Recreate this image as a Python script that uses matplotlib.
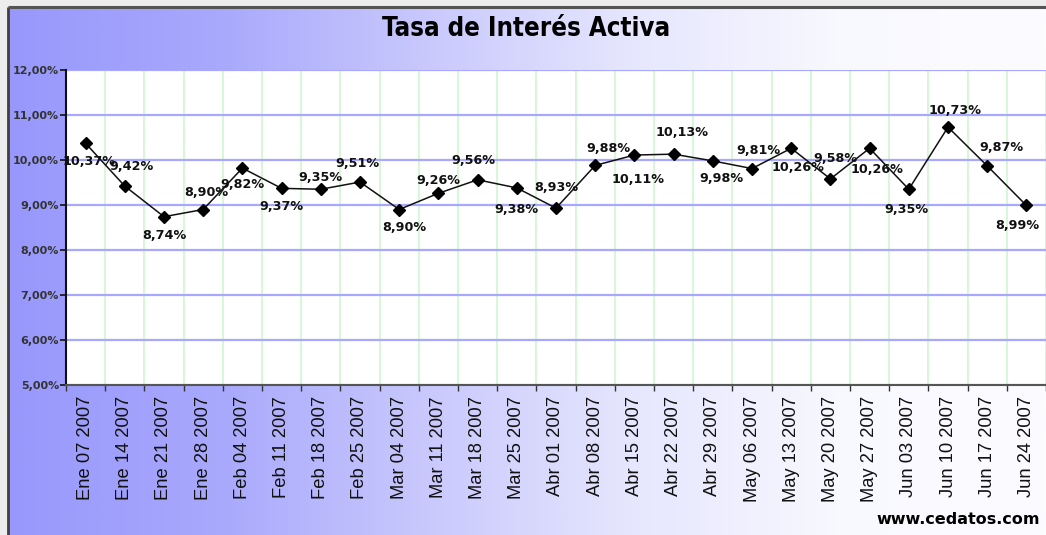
import numpy as np
import matplotlib
matplotlib.use("Agg")
import matplotlib.pyplot as plt
from matplotlib.colors import LinearSegmentedColormap

# ---- data ----
categories = ["Ene 07 2007", "Ene 14 2007", "Ene 21 2007", "Ene 28 2007",
              "Feb 04 2007", "Feb 11 2007", "Feb 18 2007", "Feb 25 2007",
              "Mar 04 2007", "Mar 11 2007", "Mar 18 2007", "Mar 25 2007",
              "Abr 01 2007", "Abr 08 2007", "Abr 15 2007", "Abr 22 2007",
              "Abr 29 2007", "May 06 2007", "May 13 2007", "May 20 2007",
              "May 27 2007", "Jun 03 2007", "Jun 10 2007", "Jun 17 2007",
              "Jun 24 2007"]
rates = [10.37, 9.42, 8.74, 8.90, 9.82, 9.37, 9.35, 9.51, 8.90, 9.26,
         9.56, 9.38, 8.93, 9.88, 10.11, 10.13, 9.98, 9.81, 10.26, 9.58,
         10.26, 9.35, 10.73, 9.87, 8.99]
y_ticks = [5, 6, 7, 8, 9, 10, 11, 12]
title = "Tasa de Interés Activa"
source = "www.cedatos.com"

# label offsets in pixels (dx, dy downward) - layout only
label_offsets = [(3, 18), (7, -20), (0, 19), (3, -17), (0, 16), (0, 18),
                 (0, -12), (-3, -19), (5, 18), (0, -13), (-4, -19), (0, 22),
                 (0, -21), (13, -17), (4, 24), (8, -22), (9, 18), (6, -18),
                 (7, 19), (5, -20), (7, 21), (-2, 20), (7, -17), (14, -18),
                 (-9, 20)]

W, H = 1046, 535
fig = plt.figure(figsize=(W / 100, H / 100), dpi=100)
fig.patch.set_facecolor("#ededed")

# background with gradient
bg = fig.add_axes([0, 0, 1, 1], zorder=0)
bg.set_xlim(0, W)
bg.set_ylim(H, 0)
bg.axis("off")
cmap = LinearSegmentedColormap.from_list(
    "g", ["#9898fc", "#a8a8fc", "#c8c8fd", "#e6e6fe", "#f8f8ff", "#fcfcff"])
grad = np.linspace(0, 1, 512).reshape(1, -1)
bg.imshow(grad, cmap=cmap, extent=[8, W, H, 7], aspect="auto")
bg.plot([8, 8], [7, H], color="#404040", lw=2, solid_capstyle="butt")
bg.plot([8, W], [7, 7], color="#555555", lw=2.2, solid_capstyle="butt")

bg.text(526, 29, title, ha="center", va="center", fontsize=18.5,
        fontweight="bold", fontstretch="condensed",
        family=["DejaVu Sans"], color="#000000")
bg.text(1040, 520, source, ha="right", va="center", fontsize=11.5,
        fontweight="bold", family="DejaVu Sans", color="#000000")

# main plot
left_px, right_px, top_px, bot_px = 66, W, 70, 385
ax = fig.add_axes([left_px / W, (H - bot_px) / H,
                   (right_px - left_px) / W, (bot_px - top_px) / H], zorder=2)
ax.set_facecolor("white")
x = np.arange(len(categories))
step = 39.4
ax.set_xlim(-0.5, -0.5 + (right_px - left_px) / step)
ax.set_ylim(5, 12)

ax.set_yticks(y_ticks)
ax.set_yticklabels([f"{v:.2f}%".replace(".", ",") for v in y_ticks],
                   fontsize=8, fontweight="bold", color="#333333",
                   family="DejaVu Sans")
ax.set_xticks(x)
ax.set_xticklabels(categories, rotation=90, fontsize=13.2,
                   family="Liberation Sans", color="#111111", va="top")
ax.set_xticks(np.arange(len(categories) + 1) - 0.5, minor=True)
ax.tick_params(axis="x", which="major", length=0, pad=8)
ax.tick_params(axis="x", which="minor", length=4, width=1, color="#333333",
               direction="out")
ax.tick_params(axis="y", which="major", length=4, width=1.2,
               color="#111111", pad=1)

ax.grid(axis="y", which="major", color="#a8a8ff", lw=1.6, zorder=0)
ax.grid(axis="x", which="minor", color="#ccf5cc", lw=1.1, zorder=0)
ax.grid(axis="x", which="major", visible=False)

for s in ["top", "right"]:
    ax.spines[s].set_visible(False)
ax.spines["left"].set_color("#111111")
ax.spines["left"].set_linewidth(1.5)
ax.spines["bottom"].set_color("#555555")
ax.spines["bottom"].set_linewidth(1.5)

ax.plot(x, rates, color="#111111", lw=1.1, marker="D", ms=6,
        markerfacecolor="#000000", markeredgecolor="#000000", zorder=4,
        clip_on=False)

for xi, v, (dx, dy) in zip(x, rates, label_offsets):
    ax.annotate(f"{v:.2f}%".replace(".", ","), (xi, v), xytext=(dx, -dy),
                textcoords="offset pixels", ha="center", va="center",
                fontsize=9.2, fontweight="bold", color="#111111",
                family="DejaVu Sans", zorder=5, annotation_clip=False)

fig.savefig("out.png", dpi=100, facecolor=fig.get_facecolor())
